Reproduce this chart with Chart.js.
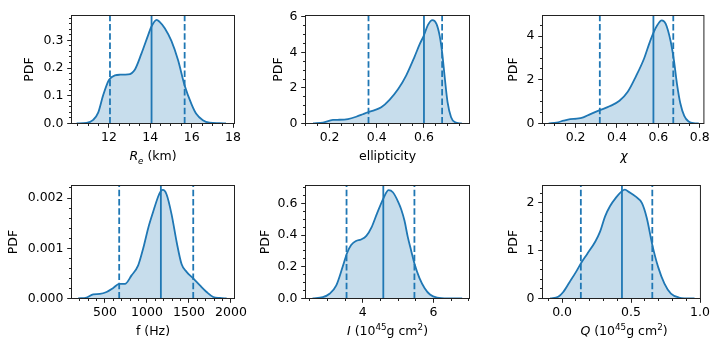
<!DOCTYPE html>
<html>
<head>
<meta charset="utf-8">
<script src="https://cdn.jsdelivr.net/npm/chart.js@4.4.1/dist/chart.umd.min.js"></script>
<style>
  body { margin: 0; background: #fff; }
  #figure { position: relative; width: 717px; height: 340px; overflow: hidden; }
  #figure canvas { position: absolute; left: 0; top: 0; }
  .xlabel {
    position: absolute;
    transform: translateX(-50%);
    font: 12.5px 'DejaVu Sans';
    line-height: 15px;
    white-space: nowrap;
    color: #000;
  }
  .xlabel sub, .xlabel sup { font-size: 70%; line-height: 0; }
</style>
</head>
<body>
<div id="figure"></div>
<script>
(() => {
    'use strict';

    const C0 = '#1f77b4';
    const FILL = 'rgba(31, 119, 180, 0.25)';
    const AXIS = '#222';
    const DASH = [6.5, 2.8];

    // R_e (km)
    const reX = [10.44, 10.92, 11.24, 11.48, 11.72, 12.0, 12.29, 12.53, 12.93, 13.25, 13.57, 13.9, 14.05, 14.3, 14.45, 14.7, 15.02, 15.34, 15.66, 16.0, 16.22, 16.54, 16.86, 17.34, 17.66];
    const reY = [0, 0.002, 0.013, 0.039, 0.102, 0.157, 0.174, 0.176, 0.177, 0.194, 0.252, 0.32, 0.349, 0.374, 0.367, 0.344, 0.298, 0.229, 0.137, 0.068, 0.035, 0.012, 0.003, 0.001, 0];
    const reLines = [12.05, 14.06, 15.66];
    const reXTicks = [12, 14, 16, 18];
    const reYTicks = [0, 0.1, 0.2, 0.3];

    // ellipticity
    const ellX = [0.13, 0.172, 0.214, 0.242, 0.278, 0.313, 0.341, 0.365, 0.391, 0.419, 0.454, 0.49, 0.525, 0.56, 0.582, 0.6, 0.617, 0.636, 0.653, 0.667, 0.677, 0.688, 0.70, 0.715, 0.73, 0.76];
    const ellY = [0, 0.05, 0.2, 0.21, 0.25, 0.38, 0.52, 0.645, 0.75, 0.91, 1.33, 1.92, 2.71, 3.75, 4.46, 4.96, 5.54, 5.81, 5.6, 4.9, 4.0, 2.6, 1.2, 0.35, 0.08, 0];
    const ellLines = [0.365, 0.6, 0.677];
    const ellXTicks = [0.2, 0.4, 0.6];
    const ellYTicks = [0, 2, 4, 6];

    // chi
    const chiX = [0.07, 0.108, 0.142, 0.174, 0.206, 0.237, 0.269, 0.317, 0.364, 0.412, 0.452, 0.491, 0.531, 0.555, 0.576, 0.595, 0.616, 0.635, 0.659, 0.675, 0.69, 0.706, 0.725, 0.746, 0.778, 0.795];
    const chiY = [0, 0.04, 0.13, 0.2, 0.22, 0.28, 0.42, 0.61, 0.79, 1.04, 1.45, 2.15, 2.98, 3.64, 4.15, 4.51, 4.73, 4.58, 3.78, 2.9, 1.81, 0.93, 0.35, 0.09, 0.01, 0];
    const chiLines = [0.317, 0.576, 0.672];
    const chiXTicks = [0.2, 0.4, 0.6, 0.8];
    const chiYTicks = [0, 2, 4];

    // f (Hz)
    const freqX = [182, 282, 361, 440, 520, 599, 670, 738, 817, 896, 956, 1015, 1075, 1134, 1166, 1190, 1234, 1294, 1353, 1413, 1472, 1551, 1631, 1710, 1789, 1869, 1948];
    const freqY = [0, 0.00002, 0.00008, 0.00009, 0.00013, 0.00021, 0.00029, 0.00029, 0.00046, 0.00066, 0.001, 0.0014, 0.00173, 0.00203, 0.00214, 0.00216, 0.00207, 0.00167, 0.00113, 0.00068, 0.00053, 0.0004, 0.00026, 0.00013, 0.00003, 0.00001, 0];
    const freqLines = [670, 1166, 1551];
    const freqXTicks = [500, 1000, 1500, 2000];
    const freqYTicks = [0, 0.001, 0.002];

    // I (10^45 g cm^2)
    const inertX = [2.58, 2.87, 3.06, 3.25, 3.43, 3.55, 3.67, 3.81, 3.95, 4.1, 4.25, 4.4, 4.59, 4.73, 4.85, 5.0, 5.09, 5.18, 5.27, 5.37, 5.46, 5.6, 5.75, 5.9, 6.1, 6.4, 6.81];
    const inertY = [0, 0.008, 0.03, 0.083, 0.2, 0.284, 0.337, 0.363, 0.372, 0.395, 0.45, 0.535, 0.635, 0.683, 0.67, 0.61, 0.56, 0.49, 0.39, 0.3, 0.22, 0.13, 0.065, 0.025, 0.005, 0, 0];
    const inertLines = [3.54, 4.58, 5.46];
    const inertXTicks = [4, 6];
    const inertYTicks = [0, 0.2, 0.4, 0.6];

    // Q (10^45 g cm^2)
    const quadX = [-0.086, -0.028, 0.007, 0.054, 0.1, 0.136, 0.182, 0.241, 0.276, 0.311, 0.346, 0.392, 0.434, 0.455, 0.486, 0.532, 0.579, 0.614, 0.654, 0.696, 0.742, 0.789, 0.847, 0.941, 0.96];
    const quadY = [0, 0.035, 0.13, 0.34, 0.55, 0.73, 0.93, 1.19, 1.4, 1.71, 1.92, 2.11, 2.24, 2.27, 2.22, 2.13, 1.99, 1.68, 1.12, 0.66, 0.31, 0.1, 0.02, 0, 0];
    const quadLines = [0.136, 0.434, 0.654];
    const quadXTicks = [0, 0.5, 1];
    const quadYTicks = [0, 1, 2];

    const panels = [
        { x: reX, y: reY, lines: reLines, xTicks: reXTicks, yTicks: reYTicks, xMinor: 0.5, yMinor: 0.02, xDec: 0, yDec: 1,
          xRange: [10.19, 18.07], yMax: 0.3897, box: [71.5, 10.5, 234.5, 123.5], yTitleX: 30,
          xTitle: '<i>R</i><sub><i>e</i></sub> (km)' },
        { x: ellX, y: ellY, lines: ellLines, xTicks: ellXTicks, yTicks: ellYTicks, xMinor: 0.05, yMinor: 0.5, xDec: 1, yDec: 0,
          xRange: [0.098, 0.793], yMax: 6.07, box: [305.5, 10.5, 469.5, 123.5], yTitleX: 278.3,
          xTitle: 'ellipticity' },
        { x: chiX, y: chiY, lines: chiLines, xTicks: chiXTicks, yTicks: chiYTicks, xMinor: 0.05, yMinor: 0.5, xDec: 1, yDec: 0,
          xRange: [0.04, 0.82], yMax: 4.95, box: [542.5, 10.5, 705.5, 123.5], yTitleX: 513.3,
          xTitle: '<i>χ</i>' },
        { x: freqX, y: freqY, lines: freqLines, xTicks: freqXTicks, yTicks: freqYTicks, xMinor: 100, yMinor: 0.0002, xDec: 0, yDec: 3,
          xRange: [102.6, 2042], yMax: 0.002249, box: [71.5, 185.5, 234.5, 298.5], yTitleX: 13.3,
          xTitle: 'f (Hz)' },
        { x: inertX, y: inertY, lines: inertLines, xTicks: inertXTicks, yTicks: inertYTicks, xMinor: 0.5, yMinor: 0.05, xDec: 0, yDec: 1,
          xRange: [2.379, 7.018], yMax: 0.7125, box: [305.5, 185.5, 469.5, 298.5], yTitleX: 265.7,
          xTitle: '<i>I</i> (10<sup>45</sup>g cm<sup>2</sup>)' },
        { x: quadX, y: quadY, lines: quadLines, xTicks: quadXTicks, yTicks: quadYTicks, xMinor: 0.1, yMinor: 0.2, xDec: 1, yDec: 0,
          xRange: [-0.142, 1.003], yMax: 2.358, box: [542.5, 185.5, 705.5, 298.5], yTitleX: 513.3,
          xTitle: '<i>Q</i> (10<sup>45</sup>g cm<sup>2</sup>)' }
    ];

    Chart.defaults.font.family = "'DejaVu Sans', sans-serif";
    Chart.defaults.font.size = 12.5;
    Chart.defaults.color = '#000';

    const fig = document.getElementById('figure');
    const Y_AXIS_W = 66;
    const X_AXIS_H = 40;

    // minor tick positions inside the view, skipping the majors
    function minorTicks(majors, step, min, max) {
        const out = [];
        for (let k = Math.ceil(min / step - 1e-9); k * step <= max + 1e-12; k++) {
            const v = k * step;
            if (!majors.some(t => Math.abs(t - v) < step / 2)) out.push(v);
        }
        return out;
    }

    // spines on all four sides, ticks on left and bottom
    function axesFrame(p) {
        return {
            id: 'axesFrame',
            afterDatasetsDraw(chart) {
                const { ctx, chartArea: a, scales: { x, y } } = chart;
                ctx.save();
                ctx.strokeStyle = AXIS;
                ctx.lineWidth = 1;
                ctx.beginPath();
                const xMark = (v, len) => {
                    const px = Math.round(x.getPixelForValue(v) - 0.5) + 0.5;
                    ctx.moveTo(px, a.bottom);
                    ctx.lineTo(px, a.bottom + len);
                };
                const yMark = (v, len) => {
                    const py = Math.round(y.getPixelForValue(v) - 0.5) + 0.5;
                    ctx.moveTo(a.left, py);
                    ctx.lineTo(a.left - len, py);
                };
                p.xTicks.forEach(v => xMark(v, 4.3));
                minorTicks(p.xTicks, p.xMinor, x.min, x.max).forEach(v => xMark(v, 2.5));
                p.yTicks.forEach(v => yMark(v, 4.3));
                minorTicks(p.yTicks, p.yMinor, y.min, y.max).forEach(v => yMark(v, 2.5));
                ctx.stroke();
                ctx.strokeRect(a.left, a.top, a.right - a.left, a.bottom - a.top);
                ctx.restore();
            }
        };
    }

    function makePanel(p) {
        const canvas = document.createElement('canvas');
        canvas.width = 717;
        canvas.height = 340;
        fig.appendChild(canvas);

        const [left, top, right, bottom] = p.box;
        const vline = (v, dash) => ({
            data: [{ x: v, y: 0 }, { x: v, y: p.yMax }],
            borderColor: C0,
            borderWidth: 1.8,
            borderDash: dash,
            pointRadius: 0,
            fill: false,
            clip: 0
        });

        new Chart(canvas, {
            type: 'line',
            data: {
                datasets: [
                    {
                        data: p.x.map((x, i) => ({ x, y: p.y[i] })),
                        borderColor: C0,
                        borderWidth: 1.8,
                        backgroundColor: FILL,
                        fill: 'origin',
                        pointRadius: 0,
                        cubicInterpolationMode: 'monotone',
                        clip: 0
                    },
                    vline(p.lines[0], DASH),
                    vline(p.lines[1], []),
                    vline(p.lines[2], DASH)
                ]
            },
            options: {
                responsive: false,
                animation: false,
                devicePixelRatio: 1,
                layout: {
                    padding: {
                        left: left - Y_AXIS_W,
                        top: top,
                        right: 717 - right,
                        bottom: 340 - bottom - X_AXIS_H
                    }
                },
                plugins: {
                    legend: { display: false },
                    tooltip: { enabled: false }
                },
                scales: {
                    x: {
                        type: 'linear',
                        min: p.xRange[0],
                        max: p.xRange[1],
                        grid: { display: false, drawTicks: false },
                        border: { display: false },
                        afterBuildTicks: s => { s.ticks = p.xTicks.map(v => ({ value: v })); },
                        afterFit: s => { s.height = X_AXIS_H; },
                        ticks: {
                            padding: 7,
                            maxRotation: 0,
                            autoSkip: false,
                            callback: v => v.toFixed(p.xDec)
                        }
                    },
                    y: {
                        type: 'linear',
                        min: 0,
                        max: p.yMax,
                        grid: { display: false, drawTicks: false },
                        border: { display: false },
                        afterBuildTicks: s => { s.ticks = p.yTicks.map(v => ({ value: v })); },
                        afterFit: s => { s.width = Y_AXIS_W; },
                        ticks: {
                            padding: 8,
                            autoSkip: false,
                            callback: v => v.toFixed(p.yDec)
                        },
                        title: {
                            display: true,
                            text: 'PDF',
                            font: { lineHeight: 1.2 },
                            padding: { top: p.yTitleX - (left - Y_AXIS_W) - 7.5, bottom: 0 }
                        }
                    }
                }
            },
            plugins: [axesFrame(p)]
        });

        const label = document.createElement('div');
        label.className = 'xlabel';
        label.innerHTML = p.xTitle;
        label.style.left = ((left + right) / 2) + 'px';
        label.style.top = (bottom + 24) + 'px';
        fig.appendChild(label);
    }

    panels.forEach(makePanel);
})();
</script>
</body>
</html>
